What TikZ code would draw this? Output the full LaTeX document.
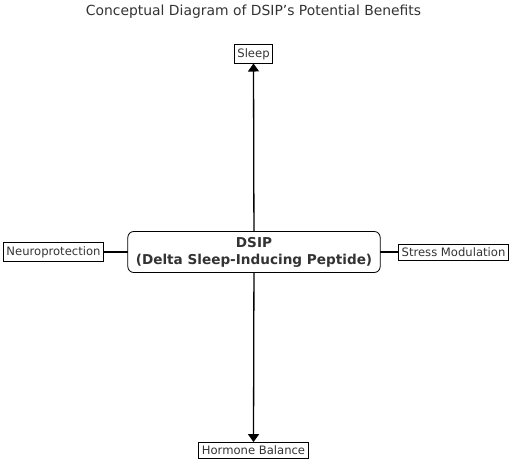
\documentclass[tikz,border=0pt]{standalone}
\usepackage{fontspec}
\setmainfont{DejaVu Sans}
\usetikzlibrary{arrows.meta}
\definecolor{txtgray}{HTML}{333333}
\begin{document}
\begin{tikzpicture}[x=1pt, y=1pt,
    benefit/.style={draw, rectangle, line width=0.8pt, inner xsep=3pt, inner ysep=3.5pt, text=txtgray, font=\fontsize{11.6}{13}\selectfont},
    core/.style={draw, rectangle, rounded corners=6pt, line width=0.8pt, fill=white, align=center, inner xsep=8pt, inner ysep=5.5pt, text=txtgray, font=\fontsize{13.6}{17}\selectfont\bfseries},
    link/.style={line width=1.3pt},
    arrowlink/.style={link, -{Triangle[width=11pt, length=8pt]}}]
    \useasboundingbox (0,0) rectangle (513,473);

    % Titulo
    \node[text=txtgray, font=\fontsize{13.9}{16}\selectfont] (title) at (253.5,461) {Conceptual Diagram of DSIP’s Potential Benefits};

    % Nós para os beneficios
    \node[benefit] (sleep) at (253.5,419) {Sleep};
    \node[benefit] (neuro) at (53.5,221) {Neuroprotection};
    \node[benefit] (stress) at (453.5,221) {Stress Modulation};
    \node[benefit] (hormone) at (253.5,22.5) {Hormone Balance};

    % Ligações (atras da caixa central)
    \draw[arrowlink] (254,221) -- (sleep.south);
    \draw[arrowlink] (254,221) -- (hormone.north);
    \draw[link] (254,221) -- (neuro.east);
    \draw[link] (254,221) -- (stress.west);

    % Caixa central
    \node[core] (dsip) at (254,221) {DSIP\\(Delta Sleep-Inducing Peptide)};
\end{tikzpicture}
\end{document}
